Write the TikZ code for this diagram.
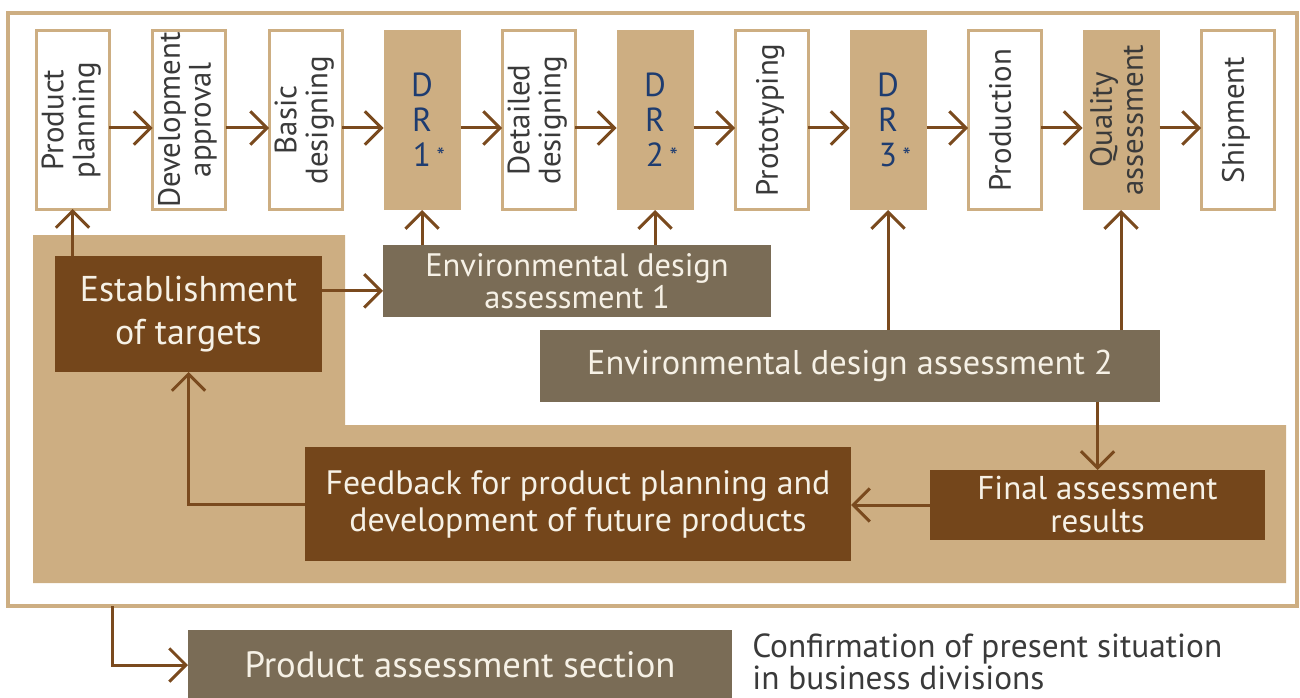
\documentclass[tikz,border=0pt]{standalone}
\usepackage{fontspec}
\setmainfont{PT Sans}
\usetikzlibrary{arrows.meta,calc}
\definecolor{tan}{RGB}{205,174,130}
\definecolor{darkbrown}{RGB}{116,70,27}
\definecolor{greybrown}{RGB}{122,108,86}
\definecolor{arrowc}{RGB}{122,74,30}
\definecolor{navy}{RGB}{30,60,112}
\definecolor{stagetext}{RGB}{58,58,58}
\definecolor{lighttext}{RGB}{246,241,230}
\tikzset{
  sz/.style 2 args={minimum width=#1*0.6pt, minimum height=#2*0.6pt, inner sep=0pt, outer sep=0pt},
  stage/.style={draw=tan, line width=1.8pt, fill=white, text=stagetext,
    font=\fontsize{18.5}{18.5}\selectfont, sz={73}{178}},
  review/.style={fill=tan, text=navy, align=center,
    font=\fontsize{20}{21}\selectfont, sz={77}{180}},
  greybox/.style={fill=greybrown, text=lighttext, align=center},
  brownbox/.style={fill=darkbrown, text=lighttext, align=center},
  conn/.style={draw=arrowc, line width=1.8pt,
    -{Straight Barb[length=10pt,width=20pt]}},
}
% text set upright-rotated inside an unrotated box
\newcommand{\vtext}[1]{\rotatebox{90}{\begin{tabular}{@{}c@{}}#1\end{tabular}}}
\newcommand{\revstar}{\rlap{\,\raisebox{0.15ex}{\fontsize{14}{14}\selectfont *}}}
\begin{document}
\begin{tikzpicture}[x=0.6pt,y=-0.6pt]
\useasboundingbox (0,0) rectangle (1300,697);
% outer frame and shaded working area
\draw[tan, line width=2pt] (8,13) rectangle (1297,606);
\fill[tan] (33,235) -- (345,235) -- (345,425) -- (1286,425) -- (1286,583) -- (33,583) -- cycle;

% process stages
\node[stage] (pp)   at (72.5,120)  {\vtext{Product\\planning}};
\node[stage] (da)   at (189,120)   {\vtext{Development\\approval}};
\node[stage] (bd)   at (305.5,120) {\vtext{Basic\\designing}};
\node[review] (dr1) at (422,120)   {D\\R\\1\revstar};
\node[stage] (dd)   at (538.5,120) {\vtext{Detailed\\designing}};
\node[review] (dr2) at (655,120)   {D\\R\\2\revstar};
\node[stage] (pr)   at (771.5,120) {\vtext{Prototyping}};
\node[review] (dr3) at (888,120)   {D\\R\\3\revstar};
\node[stage] (prod) at (1004.5,120) {\vtext{Production}};
\node[review, text=stagetext, font=\fontsize{18.5}{18.5}\selectfont] (qa) at (1121,120) {\vtext{Quality\\assessment}};
\node[stage] (sh)   at (1237.5,120) {\vtext{Shipment}};

\foreach \a/\b in {pp/da, da/bd, bd/dr1, dr1/dd, dd/dr2, dr2/pr, pr/dr3, dr3/prod, prod/qa, qa/sh}
  \draw[conn] ([yshift=-4.8pt]\a.east) -- ([yshift=-4.8pt]\b.west);

% assessment boxes
\node[brownbox, sz={267}{116}, font=\fontsize{21.5}{26}\selectfont] (est) at (188.5,314) {Establishment\\of targets};
\node[greybox, sz={388}{72}, font=\fontsize{19.5}{19.5}\selectfont] (env1) at (577,281) {Environmental design\\assessment 1};
\node[greybox, sz={620}{72}, font=\fontsize{20.6}{20}\selectfont] (env2) at (850,366) {Environmental design assessment 2};
\node[brownbox, sz={546}{114}, font=\fontsize{20.3}{22.2}\selectfont] (fb) at (578,504) {Feedback for product planning and\\development of future products};
\node[brownbox, sz={335}{70}, font=\fontsize{19.8}{19.8}\selectfont] (fin) at (1097.5,505) {Final assessment\\results};
\node[greybox, sz={544}{70}, font=\fontsize{22}{22}\selectfont] (pas) at (460,665) {Product assessment section};
\node[anchor=west, align=left, text=stagetext, font=\fontsize{20}{19.5}\selectfont,
      inner sep=0pt] (conf) at (752,662)
  {Confirmation of present situation\\in business divisions};

% connectors
\draw[conn] (pp.south |- est.north) -- (pp.south);
\coordinate (estout) at ($(est.north east)!0.3!(est.south east)$);
\draw[conn] (estout) -- (env1.west |- estout);
\draw[conn] (dr1.south |- env1.north) -- (dr1.south);
\draw[conn] (dr2.south |- env1.north) -- (dr2.south);
\draw[conn] (dr3.south |- env2.north) -- (dr3.south);
\draw[conn] (qa.south |- env2.north) -- (qa.south);
\draw[conn] (fin.north |- env2.south) -- (fin.north);
\draw[conn] (fin.west) -- (fb.east |- fin.west);
\draw[conn] (fb.west) -| (est.south);
\coordinate (framebottom) at (112,606);
\draw[conn] (framebottom) |- (pas.west);
\end{tikzpicture}
\end{document}
